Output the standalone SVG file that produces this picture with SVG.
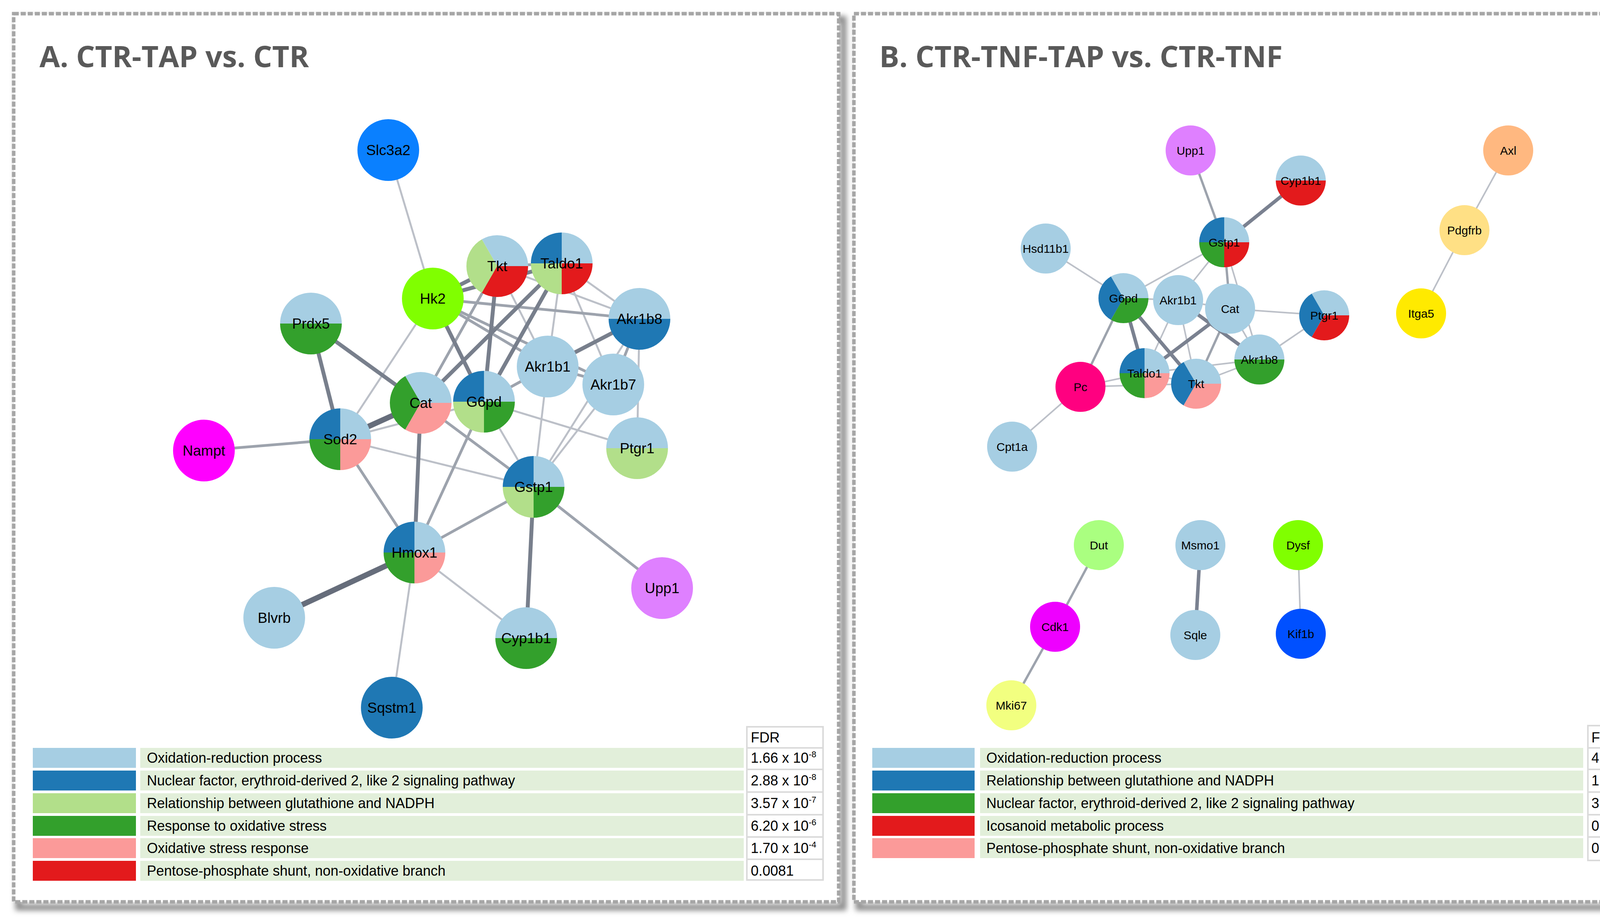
<svg xmlns="http://www.w3.org/2000/svg" width="4331" height="2357" viewBox="0 0 4331 2357">
<style>
.t{font-family:"Liberation Sans",Arial,sans-serif;fill:#000}
.na{font-size:37px;text-anchor:middle}
.nb{font-size:30px;text-anchor:middle}
.title{font-family:"Open Sans","Liberation Sans",sans-serif;font-weight:700;font-size:76px;fill:#595959}
.lg{font-family:"Liberation Sans",Arial,sans-serif;font-size:36px;fill:#000}
.sup{font-size:22px}
.frame{fill:#fff;stroke:#a6a6a6;stroke-width:9;stroke-dasharray:13 5}
.shadow{fill:none;stroke:#8c8c8c;stroke-width:16}
.lbg{fill:#e2efda}
.cell{fill:#fff;stroke:#dadada;stroke-width:4}
.sep{stroke:#dadada;stroke-width:4}
.lb{fill:#a6cee3}.db{fill:#1f78b4}.lgr{fill:#b2df8a}.gr{fill:#33a02c}.pk{fill:#fb9a99}.rd{fill:#e31a1c}
.e1{stroke:#bcc0c8;stroke-width:5;fill:none}
.e2{stroke:#9da3ad;stroke-width:7;fill:none}
.e3{stroke:#787f8c;stroke-width:10;fill:none}
.e4{stroke:#666d7b;stroke-width:14;fill:none}
.b1{stroke:#bcc0c8;stroke-width:4;fill:none}
.b2{stroke:#9da3ad;stroke-width:6;fill:none}
.b3{stroke:#7a8190;stroke-width:9;fill:none}
</style>
<defs>
<filter id="blur" x="-5%" y="-5%" width="110%" height="110%"><feGaussianBlur stdDeviation="7"/></filter>
<path id="aq1" d="M0,0H79A79,79 0 0 0 0,-79Z"/>
<path id="aq2" d="M0,0V-79A79,79 0 0 0 -79,0Z"/>
<path id="aq3" d="M0,0H-79A79,79 0 0 0 0,79Z"/>
<path id="aq4" d="M0,0V79A79,79 0 0 0 79,0Z"/>
<path id="aht" d="M-79,0A79,79 0 0 1 79,0Z"/>
<path id="ahb" d="M79,0A79,79 0 0 1 -79,0Z"/>
<path id="at1" d="M0,0H79A79,79 0 0 0 -39.5,-68.42Z"/>
<path id="at2" d="M0,0L-39.5,-68.42A79,79 0 0 0 -39.5,68.42Z"/>
<path id="at3" d="M0,0L-39.5,68.42A79,79 0 0 0 79,0Z"/>
<path id="bq1" d="M0,0H64A64,64 0 0 0 0,-64Z"/>
<path id="bq2" d="M0,0V-64A64,64 0 0 0 -64,0Z"/>
<path id="bq3" d="M0,0H-64A64,64 0 0 0 0,64Z"/>
<path id="bq4" d="M0,0V64A64,64 0 0 0 64,0Z"/>
<path id="bht" d="M-64,0A64,64 0 0 1 64,0Z"/>
<path id="bhb" d="M64,0A64,64 0 0 1 -64,0Z"/>
<path id="bt1" d="M0,0H64A64,64 0 0 0 -32,-55.43Z"/>
<path id="bt2" d="M0,0L-32,-55.43A64,64 0 0 0 -32,55.43Z"/>
<path id="bt3" d="M0,0L-32,55.43A64,64 0 0 0 64,0Z"/>
</defs>
<rect width="4331" height="2357" fill="#fff"/>

<g id="panels">
<rect class="shadow" x="47" y="49" width="2112" height="2273" filter="url(#blur)"/>
<rect class="frame" x="35" y="35" width="2112" height="2273"/>
<rect class="shadow" x="2198" y="49" width="2110" height="2273" filter="url(#blur)"/>
<rect class="frame" x="2186" y="35" width="2110" height="2273"/>
<text class="title" x="101" y="172">A. CTR-TAP vs. CTR</text>
<text class="title" x="2251" y="172">B. CTR-TNF-TAP vs. CTR-TNF</text>
</g>

<g id="connectors">
<line class="e1" x1="994" y1="384" x2="1108" y2="764"/>
<line class="e1" x1="1108" y1="764" x2="871" y2="1124"/>
<line class="e1" x1="1061" y1="1414" x2="1003" y2="1811"/>
<line class="e1" x1="1637" y1="816" x2="1631" y2="1147"/>
<line class="e1" x1="1438" y1="674" x2="1570" y2="984"/>
<line class="e1" x1="1438" y1="674" x2="1637" y2="816"/>
<line class="e1" x1="1273" y1="681" x2="1637" y2="816"/>
<line class="e1" x1="1438" y1="674" x2="1402" y2="938"/>
<line class="e1" x1="1273" y1="681" x2="1402" y2="938"/>
<line class="e1" x1="1239" y1="1028" x2="1366" y2="1246"/>
<line class="e1" x1="1239" y1="1028" x2="1631" y2="1147"/>
<line class="e1" x1="1402" y1="938" x2="1366" y2="1246"/>
<line class="e1" x1="1570" y1="984" x2="1366" y2="1246"/>
<line class="e1" x1="1637" y1="816" x2="1366" y2="1246"/>
<line class="e1" x1="871" y1="1124" x2="1239" y2="1028"/>
<line class="e1" x1="1061" y1="1414" x2="1347" y2="1633"/>
<line class="e1" x1="871" y1="1124" x2="1366" y2="1246"/>
<line class="e1" x1="1239" y1="1028" x2="1637" y2="816"/>
<line class="e2" x1="522" y1="1153" x2="871" y2="1124"/>
<line class="e2" x1="1108" y1="764" x2="1637" y2="816"/>
<line class="e2" x1="1108" y1="764" x2="1402" y2="938"/>
<line class="e2" x1="1108" y1="764" x2="1570" y2="984"/>
<line class="e2" x1="1273" y1="681" x2="1077" y2="1031"/>
<line class="e2" x1="1077" y1="1031" x2="1366" y2="1246"/>
<line class="e2" x1="1239" y1="1028" x2="1061" y2="1414"/>
<line class="e2" x1="871" y1="1124" x2="1061" y2="1414"/>
<line class="e2" x1="1061" y1="1414" x2="1366" y2="1246"/>
<line class="e2" x1="1366" y1="1246" x2="1695" y2="1505"/>
<line class="e2" x1="1239" y1="1028" x2="1402" y2="938"/>
<line class="e2" x1="1402" y1="938" x2="1570" y2="984"/>
<line class="e2" x1="1273" y1="681" x2="1438" y2="674"/>
<line class="e2" x1="1570" y1="984" x2="1637" y2="816"/>
<line class="e3" x1="1108" y1="764" x2="1273" y2="681"/>
<line class="e3" x1="1108" y1="764" x2="1438" y2="674"/>
<line class="e3" x1="1108" y1="764" x2="1239" y2="1028"/>
<line class="e3" x1="1273" y1="681" x2="1239" y2="1028"/>
<line class="e3" x1="1438" y1="674" x2="1239" y2="1028"/>
<line class="e3" x1="1438" y1="674" x2="1077" y2="1031"/>
<line class="e3" x1="1402" y1="938" x2="1637" y2="816"/>
<line class="e3" x1="796" y1="828" x2="1077" y2="1031"/>
<line class="e3" x1="796" y1="828" x2="871" y2="1124"/>
<line class="e3" x1="1077" y1="1031" x2="1061" y2="1414"/>
<line class="e3" x1="1366" y1="1246" x2="1347" y2="1633"/>
<line class="e4" x1="871" y1="1124" x2="1077" y2="1031"/>
<line class="e4" x1="1061" y1="1414" x2="702" y2="1581"/>

<line class="b1" x1="2677" y1="636" x2="2876" y2="763"/>
<line class="b1" x1="2876" y1="763" x2="3134" y2="620"/>
<line class="b1" x1="3016" y1="768" x2="3134" y2="620"/>
<line class="b1" x1="3134" y1="620" x2="3224" y2="920"/>
<line class="b1" x1="3016" y1="768" x2="2930" y2="955"/>
<line class="b1" x1="3016" y1="768" x2="3062" y2="982"/>
<line class="b1" x1="3149" y1="790" x2="3224" y2="920"/>
<line class="b1" x1="3224" y1="920" x2="3062" y2="982"/>
<line class="b1" x1="3224" y1="920" x2="2930" y2="955"/>
<line class="b1" x1="2766" y1="990" x2="2930" y2="955"/>
<line class="b1" x1="2766" y1="990" x2="3062" y2="982"/>
<line class="b1" x1="2766" y1="990" x2="2591" y2="1143"/>
<line class="b1" x1="3149" y1="790" x2="3390" y2="807"/>
<line class="b1" x1="3224" y1="920" x2="3390" y2="807"/>
<line class="b1" x1="3861" y1="385" x2="3749" y2="589"/>
<line class="b1" x1="3749" y1="589" x2="3638" y2="802"/>
<line class="b1" x1="3323" y1="1395" x2="3330" y2="1622"/>
<line class="b1" x1="2876" y1="763" x2="3016" y2="768"/>
<line class="b1" x1="3016" y1="768" x2="3149" y2="790"/>
<line class="b1" x1="2930" y1="955" x2="3062" y2="982"/>
<line class="b2" x1="3048" y1="385" x2="3134" y2="620"/>
<line class="b2" x1="3134" y1="620" x2="3149" y2="790"/>
<line class="b2" x1="3149" y1="790" x2="3062" y2="982"/>
<line class="b2" x1="2876" y1="763" x2="2766" y2="990"/>
<line class="b2" x1="2813" y1="1395" x2="2701" y2="1604"/>
<line class="b2" x1="2701" y1="1604" x2="2589" y2="1805"/>
<line class="b3" x1="3330" y1="462" x2="3134" y2="620"/>
<line class="b3" x1="2876" y1="763" x2="2930" y2="955"/>
<line class="b3" x1="2876" y1="763" x2="3062" y2="982"/>
<line class="b3" x1="3149" y1="790" x2="2930" y2="955"/>
<line class="b3" x1="3016" y1="768" x2="3224" y2="920"/>
<line class="b3" x1="3073" y1="1395" x2="3060" y2="1625"/>
</g>

<g id="nodes-a">
<g id="a-slc3a2" transform="translate(994,384)"><circle r="79" fill="#0a80ff"/><text class="t na" y="13">Slc3a2</text></g>
<g id="a-hk2" transform="translate(1108,764)"><circle r="79" fill="#80ff00"/><text class="t na" y="13">Hk2</text></g>
<g id="a-tkt" transform="translate(1273,681)"><use href="#at1" class="lb"/><use href="#at2" class="lgr"/><use href="#at3" class="rd"/><text class="t na" y="13">Tkt</text></g>
<g id="a-taldo1" transform="translate(1438,674)"><use href="#aq1" class="lb"/><use href="#aq2" class="db"/><use href="#aq3" class="lgr"/><use href="#aq4" class="rd"/><text class="t na" y="13">Taldo1</text></g>
<g id="a-akr1b8" transform="translate(1637,816)"><use href="#aht" class="lb"/><use href="#ahb" class="db"/><text class="t na" y="13">Akr1b8</text></g>
<g id="a-prdx5" transform="translate(796,828)"><use href="#aht" class="lb"/><use href="#ahb" class="gr"/><text class="t na" y="13">Prdx5</text></g>
<g id="a-akr1b1" transform="translate(1402,938)"><circle r="79" class="lb"/><text class="t na" y="13">Akr1b1</text></g>
<g id="a-akr1b7" transform="translate(1570,984)"><circle r="79" class="lb"/><text class="t na" y="13">Akr1b7</text></g>
<g id="a-cat" transform="translate(1077,1031)"><use href="#at1" class="lb"/><use href="#at2" class="gr"/><use href="#at3" class="pk"/><text class="t na" y="13">Cat</text></g>
<g id="a-g6pd" transform="translate(1239,1028)"><use href="#aq1" class="lb"/><use href="#aq2" class="db"/><use href="#aq3" class="lgr"/><use href="#aq4" class="gr"/><text class="t na" y="13">G6pd</text></g>
<g id="a-nampt" transform="translate(522,1153)"><circle r="79" fill="#ff00ff"/><text class="t na" y="13">Nampt</text></g>
<g id="a-sod2" transform="translate(871,1124)"><use href="#aq1" class="lb"/><use href="#aq2" class="db"/><use href="#aq3" class="gr"/><use href="#aq4" class="pk"/><text class="t na" y="13">Sod2</text></g>
<g id="a-ptgr1" transform="translate(1631,1147)"><use href="#aht" class="lb"/><use href="#ahb" class="lgr"/><text class="t na" y="13">Ptgr1</text></g>
<g id="a-gstp1" transform="translate(1366,1246)"><use href="#aq1" class="lb"/><use href="#aq2" class="db"/><use href="#aq3" class="lgr"/><use href="#aq4" class="gr"/><text class="t na" y="13">Gstp1</text></g>
<g id="a-hmox1" transform="translate(1061,1414)"><use href="#aq1" class="lb"/><use href="#aq2" class="db"/><use href="#aq3" class="gr"/><use href="#aq4" class="pk"/><text class="t na" y="13">Hmox1</text></g>
<g id="a-upp1" transform="translate(1695,1505)"><circle r="79" fill="#df80ff"/><text class="t na" y="13">Upp1</text></g>
<g id="a-blvrb" transform="translate(702,1581)"><circle r="79" class="lb"/><text class="t na" y="13">Blvrb</text></g>
<g id="a-cyp1b1" transform="translate(1347,1633)"><use href="#aht" class="lb"/><use href="#ahb" class="gr"/><text class="t na" y="13">Cyp1b1</text></g>
<g id="a-sqstm1" transform="translate(1003,1811)"><circle r="79" class="db"/><text class="t na" y="13">Sqstm1</text></g>
</g>

<g id="nodes-b">
<g id="b-upp1" transform="translate(3048,385)"><circle r="64" fill="#df80ff"/><text class="t nb" y="11">Upp1</text></g>
<g id="b-cyp1b1" transform="translate(3330,462)"><use href="#bht" class="lb"/><use href="#bhb" class="rd"/><text class="t nb" y="11">Cyp1b1</text></g>
<g id="b-gstp1" transform="translate(3134,620)"><use href="#bq1" class="lb"/><use href="#bq2" class="db"/><use href="#bq3" class="gr"/><use href="#bq4" class="rd"/><text class="t nb" y="11">Gstp1</text></g>
<g id="b-hsd11b1" transform="translate(2677,636)"><circle r="64" class="lb"/><text class="t nb" y="11">Hsd11b1</text></g>
<g id="b-g6pd" transform="translate(2876,763)"><use href="#bt1" class="lb"/><use href="#bt2" class="db"/><use href="#bt3" class="gr"/><text class="t nb" y="11">G6pd</text></g>
<g id="b-akr1b1" transform="translate(3016,768)"><circle r="64" class="lb"/><text class="t nb" y="11">Akr1b1</text></g>
<g id="b-cat" transform="translate(3149,790)"><circle r="64" class="lb"/><text class="t nb" y="11">Cat</text></g>
<g id="b-ptgr1" transform="translate(3390,807)"><use href="#bt1" class="lb"/><use href="#bt2" class="db"/><use href="#bt3" class="rd"/><text class="t nb" y="11">Ptgr1</text></g>
<g id="b-akr1b8" transform="translate(3224,920)"><use href="#bht" class="lb"/><use href="#bhb" class="gr"/><text class="t nb" y="11">Akr1b8</text></g>
<g id="b-taldo1" transform="translate(2930,955)"><use href="#bq1" class="lb"/><use href="#bq2" class="db"/><use href="#bq3" class="gr"/><use href="#bq4" class="pk"/><text class="t nb" y="11">Taldo1</text></g>
<g id="b-tkt" transform="translate(3062,982)"><use href="#bt1" class="lb"/><use href="#bt2" class="db"/><use href="#bt3" class="pk"/><text class="t nb" y="11">Tkt</text></g>
<g id="b-pc" transform="translate(2766,990)"><circle r="64" fill="#ff0080"/><text class="t nb" y="11">Pc</text></g>
<g id="b-cpt1a" transform="translate(2591,1143)"><circle r="64" class="lb"/><text class="t nb" y="11">Cpt1a</text></g>
<g id="b-axl" transform="translate(3861,385)"><circle r="64" fill="#ffb880"/><text class="t nb" y="11">Axl</text></g>
<g id="b-pdgfrb" transform="translate(3749,589)"><circle r="64" fill="#ffe085"/><text class="t nb" y="11">Pdgfrb</text></g>
<g id="b-itga5" transform="translate(3638,802)"><circle r="64" fill="#ffea00"/><text class="t nb" y="11">Itga5</text></g>
<g id="b-dut" transform="translate(2813,1395)"><circle r="64" fill="#aaff80"/><text class="t nb" y="11">Dut</text></g>
<g id="b-msmo1" transform="translate(3073,1395)"><circle r="64" class="lb"/><text class="t nb" y="11">Msmo1</text></g>
<g id="b-dysf" transform="translate(3323,1395)"><circle r="64" fill="#80ff00"/><text class="t nb" y="11">Dysf</text></g>
<g id="b-cdk1" transform="translate(2701,1604)"><circle r="64" fill="#ee00ff"/><text class="t nb" y="11">Cdk1</text></g>
<g id="b-sqle" transform="translate(3060,1625)"><circle r="64" class="lb"/><text class="t nb" y="11">Sqle</text></g>
<g id="b-kif1b" transform="translate(3330,1622)"><circle r="64" fill="#0050ff"/><text class="t nb" y="11">Kif1b</text></g>
<g id="b-mki67" transform="translate(2589,1805)"><circle r="64" fill="#f2ff80"/><text class="t nb" y="11">Mki67</text></g>
</g>

<g id="legend-a">
<rect class="lb" x="84" y="1914" width="264" height="51"/>
<rect class="db" x="84" y="1972" width="264" height="51"/>
<rect class="lgr" x="84" y="2030" width="264" height="51"/>
<rect class="gr" x="84" y="2088" width="264" height="51"/>
<rect class="pk" x="84" y="2145" width="264" height="51"/>
<rect class="rd" x="84" y="2203" width="264" height="51"/>
<rect class="lbg" x="359" y="1914" width="1545" height="51"/>
<rect class="lbg" x="359" y="1972" width="1545" height="51"/>
<rect class="lbg" x="359" y="2030" width="1545" height="51"/>
<rect class="lbg" x="359" y="2088" width="1545" height="51"/>
<rect class="lbg" x="359" y="2145" width="1545" height="51"/>
<rect class="lbg" x="359" y="2203" width="1545" height="51"/>
<text class="lg" x="376" y="1952">Oxidation-reduction process</text>
<text class="lg" x="376" y="2010">Nuclear factor, erythroid-derived 2, like 2 signaling pathway</text>
<text class="lg" x="376" y="2068">Relationship between glutathione and NADPH</text>
<text class="lg" x="376" y="2126">Response to oxidative stress</text>
<text class="lg" x="376" y="2183">Oxidative stress response</text>
<text class="lg" x="376" y="2241">Pentose-phosphate shunt, non-oxidative branch</text>
<rect class="cell" x="1912" y="1860" width="195" height="392"/>
<line class="sep" x1="1912" y1="1914" x2="2107" y2="1914"/>
<line class="sep" x1="1912" y1="1969" x2="2107" y2="1969"/>
<line class="sep" x1="1912" y1="2027" x2="2107" y2="2027"/>
<line class="sep" x1="1912" y1="2085" x2="2107" y2="2085"/>
<line class="sep" x1="1912" y1="2142" x2="2107" y2="2142"/>
<line class="sep" x1="1912" y1="2199" x2="2107" y2="2199"/>
<text class="lg" x="1922" y="1900">FDR</text>
<text class="lg" x="1922" y="1952">1.66 x 10<tspan class="sup" dy="-14">-8</tspan></text>
<text class="lg" x="1922" y="2010">2.88 x 10<tspan class="sup" dy="-14">-8</tspan></text>
<text class="lg" x="1922" y="2068">3.57 x 10<tspan class="sup" dy="-14">-7</tspan></text>
<text class="lg" x="1922" y="2126">6.20 x 10<tspan class="sup" dy="-14">-6</tspan></text>
<text class="lg" x="1922" y="2183">1.70 x 10<tspan class="sup" dy="-14">-4</tspan></text>
<text class="lg" x="1922" y="2241">0.0081</text>
</g>

<g id="legend-b">
<rect class="lb" x="2233" y="1914" width="262" height="51"/>
<rect class="db" x="2233" y="1972" width="262" height="51"/>
<rect class="gr" x="2233" y="2030" width="262" height="51"/>
<rect class="rd" x="2233" y="2088" width="262" height="51"/>
<rect class="pk" x="2233" y="2145" width="262" height="51"/>
<rect class="lbg" x="2509" y="1914" width="1544" height="51"/>
<rect class="lbg" x="2509" y="1972" width="1544" height="51"/>
<rect class="lbg" x="2509" y="2030" width="1544" height="51"/>
<rect class="lbg" x="2509" y="2088" width="1544" height="51"/>
<rect class="lbg" x="2509" y="2145" width="1544" height="51"/>
<text class="lg" x="2525" y="1952">Oxidation-reduction process</text>
<text class="lg" x="2525" y="2010">Relationship between glutathione and NADPH</text>
<text class="lg" x="2525" y="2068">Nuclear factor, erythroid-derived 2, like 2 signaling pathway</text>
<text class="lg" x="2525" y="2126">Icosanoid metabolic process</text>
<text class="lg" x="2525" y="2183">Pentose-phosphate shunt, non-oxidative branch</text>
<rect class="cell" x="4065" y="1857" width="179" height="345"/>
<line class="sep" x1="4065" y1="1914" x2="4244" y2="1914"/>
<line class="sep" x1="4065" y1="1969" x2="4244" y2="1969"/>
<line class="sep" x1="4065" y1="2027" x2="4244" y2="2027"/>
<line class="sep" x1="4065" y1="2085" x2="4244" y2="2085"/>
<line class="sep" x1="4065" y1="2142" x2="4244" y2="2142"/>
<text class="lg" x="4074" y="1900">FDR</text>
<text class="lg" x="4074" y="1952">4.51 x 10<tspan class="sup" dy="-14">-7</tspan></text>
<text class="lg" x="4074" y="2010">1.01 x 10<tspan class="sup" dy="-14">-5</tspan></text>
<text class="lg" x="4074" y="2068">3.10 x 10<tspan class="sup" dy="-14">-4</tspan></text>
<text class="lg" x="4074" y="2126">0.026</text>
<text class="lg" x="4074" y="2183">0.0297</text>
</g>
</svg>
